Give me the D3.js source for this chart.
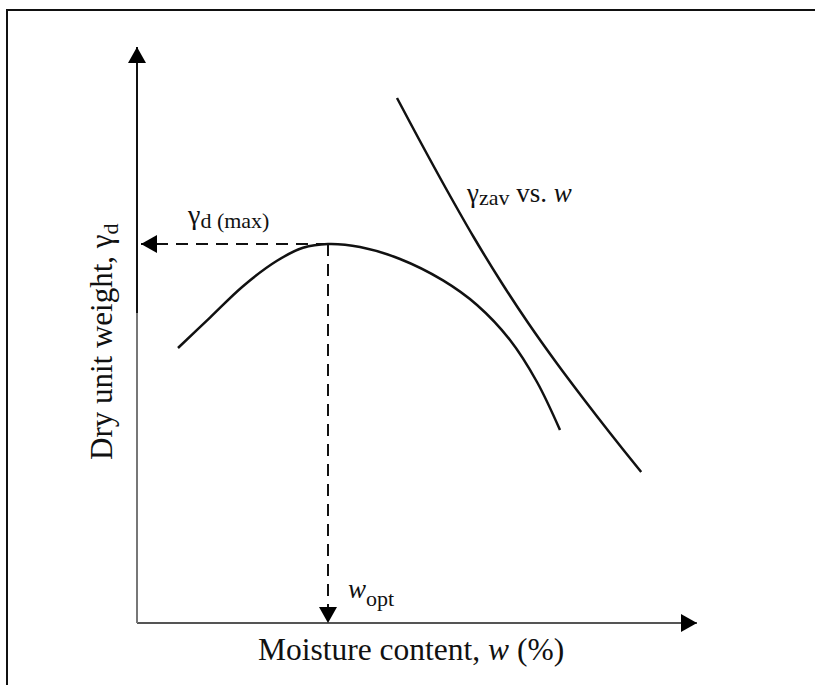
<!DOCTYPE html>
<html>
<head>
<meta charset="utf-8">
<script src="https://cdn.jsdelivr.net/npm/d3@7"></script>
<style>
  html, body { margin: 0; padding: 0; background: #fff; }
  svg { display: block; }
  text { font-family: "Liberation Serif", "DejaVu Serif", serif; fill: #111; }
</style>
</head>
<body>
<div id="chart"></div>
<script>
// compaction curve: moisture content (%) vs dry unit weight
const moisture = [2.05, 3.65, 5.3, 7.0, 8.3, 9.55, 11.15, 13.15, 15.3, 17.0, 18.65, 20.0, 21.15];
const dryUnitWeight = [13.75, 15.27, 16.84, 18.11, 18.76, 18.95, 18.8, 18.2, 17.13, 15.9, 14.15, 12.05, 9.65];

// zero-air-void curve
const zavMoisture = [13.0, 14.12, 15.49, 16.83, 18.24, 19.56, 20.98, 22.37, 23.65, 25.21];
const zavWeight = [26.25, 24.15, 21.65, 19.3, 17.0, 15.0, 13.0, 11.15, 9.5, 7.55];

const wOpt = 9.55;
const gammaMax = 18.95;

const width = 815, height = 685;

const svg = d3.select("#chart").append("svg")
    .attr("width", width)
    .attr("height", height);

const x = d3.scaleLinear().domain([0, 28]).range([137, 697]);
const y = d3.scaleLinear().domain([0, 28.8]).range([623, 47]);

// arrow markers
const defs = svg.append("defs");
defs.append("marker")
    .attr("id", "arrow")
    .attr("viewBox", "0 0 16 18")
    .attr("refX", 16).attr("refY", 9)
    .attr("markerWidth", 16).attr("markerHeight", 18)
    .attr("markerUnits", "userSpaceOnUse")
    .attr("orient", "auto")
    .append("path")
    .attr("d", "M0,0 L16,9 L0,18 Z")
    .attr("fill", "#000");

// outer frame (only top and left visible)
svg.append("path")
    .attr("d", `M7,${height} L7,10 L${width},10`)
    .attr("fill", "none")
    .attr("stroke", "#111")
    .attr("stroke-width", 2);

// axes
svg.append("line")
    .attr("x1", x(0)).attr("y1", y(0))
    .attr("x2", x(28)).attr("y2", y(0))
    .attr("stroke", "#555").attr("stroke-width", 2)
    .attr("marker-end", "url(#arrow)");
svg.append("line")
    .attr("x1", x(0)).attr("y1", y(0))
    .attr("x2", x(0)).attr("y2", y(15.5))
    .attr("stroke", "#777").attr("stroke-width", 2);
svg.append("line")
    .attr("x1", x(0)).attr("y1", y(15.5))
    .attr("x2", x(0)).attr("y2", y(28.8))
    .attr("stroke", "#111").attr("stroke-width", 2)
    .attr("marker-end", "url(#arrow)");

// dashed guides to the peak
svg.append("line")
    .attr("x1", x(wOpt)).attr("y1", y(gammaMax))
    .attr("x2", x(0.2)).attr("y2", y(gammaMax))
    .attr("stroke", "#111").attr("stroke-width", 2)
    .attr("stroke-dasharray", "12,8")
    .attr("marker-end", "url(#arrow)");
svg.append("line")
    .attr("x1", x(wOpt)).attr("y1", y(gammaMax))
    .attr("x2", x(wOpt)).attr("y2", y(0))
    .attr("stroke", "#111").attr("stroke-width", 2)
    .attr("stroke-dasharray", "12,8")
    .attr("marker-end", "url(#arrow)");

const line = d3.line()
    .x(d => x(d[0]))
    .y(d => y(d[1]))
    .curve(d3.curveCatmullRom.alpha(0.5));

svg.append("path")
    .datum(d3.zip(moisture, dryUnitWeight))
    .attr("d", line)
    .attr("fill", "none")
    .attr("stroke", "#111")
    .attr("stroke-width", 2.5);

svg.append("path")
    .datum(d3.zip(zavMoisture, zavWeight))
    .attr("d", line)
    .attr("fill", "none")
    .attr("stroke", "#111")
    .attr("stroke-width", 2.5);

// labels
const lblMax = svg.append("text")
    .attr("x", 188).attr("y", 224)
    .style("font-size", "28px");
lblMax.append("tspan").text("γ");
lblMax.append("tspan").attr("dy", 4).style("font-size", "22px").text("d (max)");

const lblZav = svg.append("text")
    .attr("x", 467).attr("y", 202)
    .style("font-size", "27px");
lblZav.append("tspan").text("γ");
lblZav.append("tspan").attr("dy", 3).style("font-size", "22px").text("zav");
lblZav.append("tspan").attr("dy", -3).text(" vs. ");
lblZav.append("tspan").style("font-style", "italic").text("w");

const lblOpt = svg.append("text")
    .attr("x", x(wOpt) + 20).attr("y", 598)
    .style("font-size", "27px");
lblOpt.append("tspan").style("font-style", "italic").text("w");
lblOpt.append("tspan").attr("dy", 8).style("font-size", "22px").text("opt");

const xLabel = svg.append("text")
    .attr("x", 258).attr("y", 660)
    .style("font-size", "31.5px");
xLabel.append("tspan").text("Moisture content, ");
xLabel.append("tspan").style("font-style", "italic").text("w");
xLabel.append("tspan").text(" (%)");

const yLabel = svg.append("text")
    .attr("transform", "translate(112,460) rotate(-90)")
    .style("font-size", "31px");
yLabel.append("tspan").text("Dry unit weight, γ");
yLabel.append("tspan").attr("dy", 6).style("font-size", "22px").text("d");
</script>
</body>
</html>
